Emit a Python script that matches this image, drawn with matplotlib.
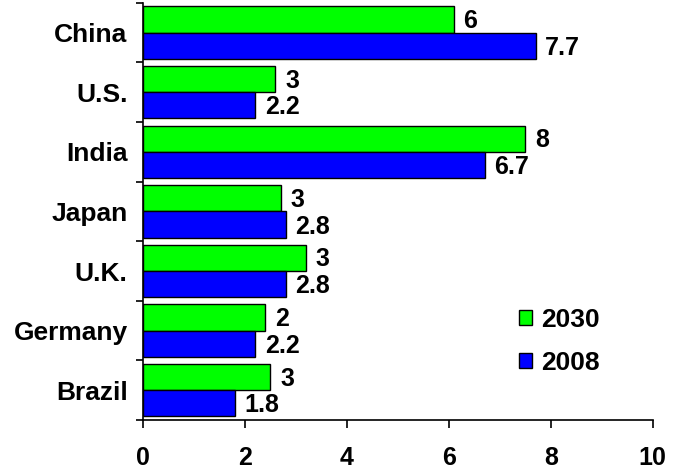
import numpy as np
import matplotlib.pyplot as plt

countries = ['China', 'U.S.', 'India', 'Japan', 'U.K.', 'Germany', 'Brazil']
val_2030 = [6.1, 2.6, 7.5, 2.7, 3.2, 2.4, 2.5]
lab_2030 = ['6', '3', '8', '3', '3', '2', '3']
val_2008 = [7.7, 2.2, 6.7, 2.8, 2.8, 2.2, 1.8]
lab_2008 = ['7.7', '2.2', '6.7', '2.8', '2.8', '2.2', '1.8']
xticks = [0, 2, 4, 6, 8, 10]

plt.rcParams['font.family'] = ['Liberation Sans', 'DejaVu Sans']
plt.rcParams['font.weight'] = 'bold'
fs = 19

fig = plt.figure(figsize=(6.8, 4.73), dpi=100)
ax = fig.add_axes([0.210, 0.112, 0.750, 0.882])

y = np.arange(len(countries))
h = 0.44
b1 = ax.barh(y - h / 2, val_2030, height=h, color='#00ff00', edgecolor='black', linewidth=1, label='2030')
b2 = ax.barh(y + h / 2, val_2008, height=h, color='#0000ff', edgecolor='black', linewidth=1, label='2008')

# value labels just right of bar ends
for yi, v, t in zip(y, val_2030, lab_2030):
    ax.annotate(t, (v, yi - h / 2), xytext=(7, -1), textcoords='offset points',
                va='center', ha='left', fontsize=18, fontweight='bold')
for yi, v, t in zip(y, val_2008, lab_2008):
    ax.annotate(t, (v, yi + h / 2), xytext=(7, -1.5), textcoords='offset points',
                va='center', ha='left', fontsize=18, fontweight='bold')

ax.set_ylim(len(countries) - 0.5, -0.5)
ax.set_xlim(0, 10)
ax.set_yticks(y)
ax.set_yticklabels(countries, fontsize=fs, fontweight='bold')
ax.tick_params(axis='y', which='major', length=0, pad=11)
ax.set_yticks(np.arange(-0.5, len(countries), 1), minor=True)
ax.tick_params(axis='y', which='minor', length=5, width=1.2, direction='out')
ax.set_xticks(xticks)
ax.set_xticklabels([str(t) for t in xticks], fontsize=18, fontweight='bold')
ax.tick_params(axis='x', length=6, width=1.2, direction='out', pad=13)

for s in ['top', 'right']:
    ax.spines[s].set_visible(False)
for s in ['left', 'bottom']:
    ax.spines[s].set_linewidth(1.2)

ax.legend(handles=[b1, b2], loc='upper left', bbox_to_anchor=(0.738, 0.268), frameon=False,
          handlelength=0.5, handleheight=0.5, handletextpad=0.35, borderpad=0,
          borderaxespad=0, labelspacing=0.7, prop={'weight': 'bold', 'size': fs})

fig.savefig('out.png', dpi=100)
